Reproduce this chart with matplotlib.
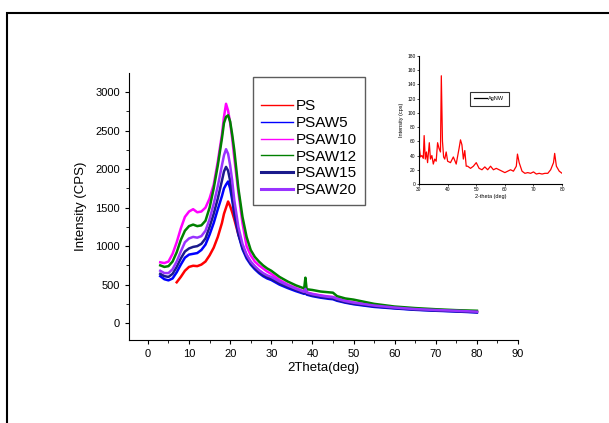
import numpy as np
import matplotlib
matplotlib.use("Agg")
import matplotlib.pyplot as plt
from matplotlib.lines import Line2D
from matplotlib.patches import Rectangle

plt.rcParams["font.family"] = ["Liberation Sans", "DejaVu Sans"]

# main XRD patterns (2theta in deg, intensity in CPS)
two_theta = [3, 4, 5, 6, 7, 8, 9, 10, 11, 12, 13, 14, 15, 16, 17, 18, 18.5, 19, 19.5, 20,
             20.5, 21, 22, 23, 24, 25, 26, 27, 28, 29, 30, 32, 34, 36, 38, 38.3, 38.6, 40,
             42, 44, 45, 46, 48, 50, 55, 60, 65, 70, 75, 80]

ps = [np.nan, np.nan, np.nan, np.nan, 530, 600, 680, 730, 745, 740, 760, 800, 880, 980, 1120,
      1300, 1420, 1500, 1580, 1520, 1440, 1350, 1150, 1000, 880, 790, 730, 680, 640, 610, 590,
      530, 480, 440, 400, 440, 390, 370, 350, 335, 330, 310, 280, 260, 225, 200, 180, 168, 158, 145]
psaw5 = [610, 570, 555, 580, 660, 760, 850, 890, 900, 910, 950, 1020, 1150, 1300, 1480, 1650,
         1750, 1800, 1840, 1750, 1600, 1420, 1150, 960, 840, 760, 700, 650, 610, 580, 560, 500,
         455, 415, 380, 420, 370, 350, 330, 315, 310, 290, 265, 245, 210, 190, 172, 160, 150, 138]
psaw10 = [790, 780, 800, 900, 1050, 1230, 1380, 1450, 1480, 1440, 1450, 1500, 1620, 1800, 2100,
          2450, 2680, 2850, 2760, 2600, 2400, 2150, 1700, 1300, 1000, 880, 800, 750, 710, 670,
          640, 560, 500, 455, 410, 450, 400, 380, 360, 345, 340, 320, 290, 268, 230, 205, 185,
          172, 160, 150]
psaw12 = [750, 730, 740, 800, 920, 1080, 1200, 1260, 1280, 1260, 1270, 1330, 1500, 1750, 2050,
          2400, 2600, 2680, 2700, 2620, 2450, 2250, 1750, 1380, 1120, 950, 860, 800, 750, 710,
          680, 600, 540, 490, 450, 590, 440, 430, 410, 400, 395, 350, 320, 305, 250, 215, 195,
          180, 168, 160]
psaw15 = [640, 610, 600, 640, 730, 840, 930, 970, 990, 1000, 1030, 1100, 1250, 1420, 1620, 1850,
          1970, 2030, 1980, 1850, 1650, 1450, 1170, 980, 860, 775, 715, 665, 625, 595, 575, 515,
          470, 430, 390, 430, 380, 360, 340, 325, 320, 300, 272, 252, 218, 195, 176, 164, 154, 142]
psaw20 = [680, 650, 650, 700, 800, 930, 1050, 1100, 1120, 1110, 1130, 1200, 1350, 1550, 1780,
          2050, 2180, 2260, 2200, 2050, 1850, 1600, 1250, 1030, 890, 800, 740, 690, 650, 620, 600,
          540, 490, 445, 405, 445, 395, 375, 355, 340, 335, 315, 285, 265, 228, 202, 182, 170, 160, 148]

# inset: AgNW pattern
ag_theta = [30, 30.5, 31, 31.5, 31.8, 32.2, 32.6, 33, 33.6, 34, 34.5, 35, 35.5, 36, 36.5, 37,
            37.5, 37.8, 38.2, 38.6, 39, 39.5, 40, 41, 42, 43, 44, 44.5, 45, 45.5, 46, 46.5, 47,
            48, 49, 50, 51, 52, 53, 54, 55, 56, 57, 58, 59, 60, 61, 62, 63, 64, 64.4, 65, 66,
            67, 68, 69, 70, 71, 72, 73, 74, 75, 76, 77, 77.4, 78, 79, 80]
ag_counts = [55, 38, 40, 36, 68, 35, 45, 30, 58, 35, 40, 28, 35, 32, 58, 50, 45, 152, 60, 38,
             35, 45, 32, 30, 38, 28, 50, 62, 55, 35, 47, 25, 25, 22, 25, 30, 22, 20, 24, 20, 25,
             20, 22, 20, 18, 16, 18, 20, 18, 25, 42, 30, 18, 15, 16, 15, 17, 14, 15, 14, 15, 15,
             20, 30, 43, 25, 18, 15]

series = [("PS", ps, "#ff0000", 1.0), ("PSAW5", psaw5, "#0000ff", 1.0),
          ("PSAW10", psaw10, "#ff00ff", 1.0), ("PSAW12", psaw12, "#008000", 1.0),
          ("PSAW15", psaw15, "#1a1a8c", 2.2), ("PSAW20", psaw20, "#9933ff", 2.2)]

fig = plt.figure(figsize=(6.09, 4.23), dpi=100)
fig.patches.append(Rectangle((0.0115, -0.1), 1.2, 1.07, transform=fig.transFigure,
                             fill=False, edgecolor="black", linewidth=1.5))

ax = fig.add_axes([0.2118, 0.1962, 0.6388, 0.6312])
for name, vals, col, lw in series:
    ax.plot(two_theta, vals, color=col, linewidth=1.8)
ax.set_xlim(-4.6, 90)
ax.set_ylim(-220, 3250)
ax.set_xticks(range(0, 91, 10))
ax.set_xticks(range(5, 90, 10), minor=True)
ax.set_yticks(range(0, 3001, 500))
ax.set_yticks(range(250, 3250, 500), minor=True)
for s in ("top", "right"):
    ax.spines[s].set_visible(False)
ax.tick_params(labelsize=8, length=3, width=0.8)
ax.tick_params(which="minor", length=2, width=0.6)
ax.set_xlabel("2Theta(deg)", fontsize=9.5, labelpad=2)
ax.set_ylabel("Intensity (CPS)", fontsize=9.5, labelpad=6)

handles = [Line2D([], [], color=col, linewidth=lw) for _, _, col, lw in series]
leg = ax.legend(handles, [s[0] for s in series], loc="upper left",
                bbox_to_anchor=(253 / 609, 1 - 77 / 423), bbox_transform=fig.transFigure,
                fontsize=11, title=" ", title_fontsize=9, frameon=True, fancybox=False,
                edgecolor="#333333", handlelength=2.1, handletextpad=0.2,
                labelspacing=0.18, borderpad=0.5, borderaxespad=0)
leg.get_frame().set_linewidth(1.0)

ins = fig.add_axes([0.688, 0.565, 0.235, 0.303])
ins.plot(ag_theta, ag_counts, color="#ff0000", linewidth=0.9)
ins.set_xlim(30, 80)
ins.set_ylim(0, 180)
ins.set_xticks(range(30, 81, 10))
ins.set_yticks(range(0, 181, 20))
for s in ("top", "right"):
    ins.spines[s].set_visible(False)
ins.tick_params(labelsize=3.5, length=1.5, width=0.5, pad=1)
ins.set_xlabel("2-theta (deg)", fontsize=4, labelpad=1)
ins.set_ylabel("Intensity (cps)", fontsize=4, labelpad=2)
ileg = ins.legend([Line2D([], [], color="black", linewidth=0.9)], ["AgNW"], loc="upper left",
                  bbox_to_anchor=(470 / 609, 1 - 92 / 423), bbox_transform=fig.transFigure,
                  fontsize=4, frameon=True, fancybox=False, edgecolor="black",
                  handlelength=2.2, handletextpad=0.3, borderpad=0.8, borderaxespad=0)
ileg.get_frame().set_linewidth(0.8)

fig.savefig("out.png", dpi=100)
